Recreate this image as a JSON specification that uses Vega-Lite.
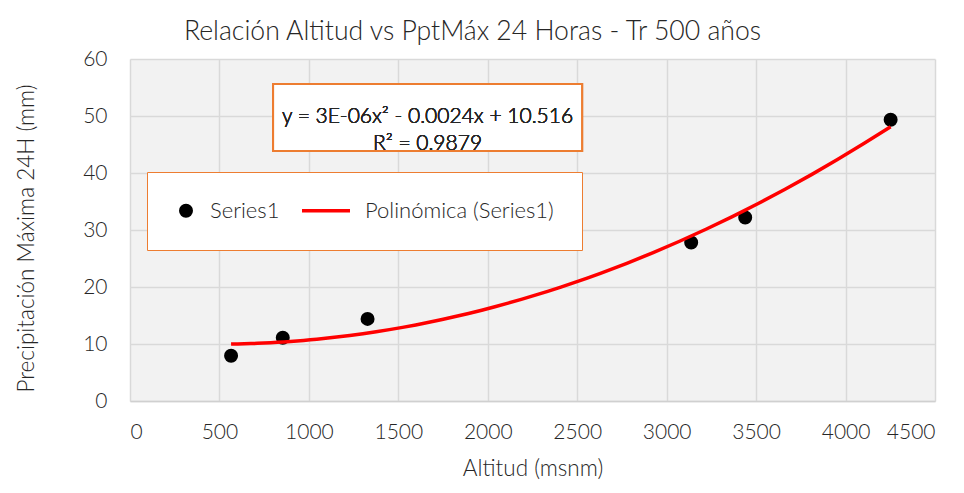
{
  "$schema": "https://vega.github.io/schema/vega-lite/v6.json",
  "width": 805,
  "height": 342,
  "autosize": {"type": "none"},
  "padding": {"left": 130, "top": 59, "right": 29, "bottom": 92},
  "background": "#ffffff",
  "title": {
    "text": "Relación Altitud vs PptMáx 24 Horas - Tr 500 años",
    "font": "Lato",
    "fontSize": 26.6,
    "fontWeight": 300,
    "color": "#262626",
    "anchor": "middle",
    "dx": -60,
    "offset": 2
  },
  "data": {
    "values": [
      {"alt": 565, "ppt": 7.95},
      {"alt": 854, "ppt": 11.1},
      {"alt": 1328, "ppt": 14.4},
      {"alt": 3137, "ppt": 27.8},
      {"alt": 3439, "ppt": 32.2},
      {"alt": 4252, "ppt": 49.35}
    ]
  },
  "layer": [
    {
      "mark": {"type": "rect", "fill": "#ffffff", "stroke": "#ED7D31", "strokeWidth": 2},
      "encoding": {
        "x": {"datum": 800, "type": "quantitative"},
        "x2": {"datum": 2527},
        "y": {"datum": 55.6, "type": "quantitative"},
        "y2": {"datum": 43.86}
      }
    },
    {
      "mark": {
        "type": "text",
        "font": "Lato",
        "fontSize": 21,
        "fontWeight": 300,
        "lineHeight": 27,
        "lineBreak": "\n",
        "color": "#262626",
        "align": "center",
        "baseline": "middle"
      },
      "encoding": {
        "text": {"datum": "y = 3E-06x² - 0.0024x + 10.516\nR² = 0.9879"},
        "x": {"datum": 1663, "type": "quantitative"},
        "y": {"datum": 49.74, "type": "quantitative"}
      }
    },
    {
      "mark": {"type": "point", "filled": true, "opacity": 1, "strokeWidth": 3.5},
      "encoding": {
        "x": {
          "field": "alt",
          "type": "quantitative",
          "scale": {"domain": [0, 4500], "nice": false, "zero": false},
          "axis": {
            "values": [0, 500, 1000, 1500, 2000, 2500, 3000, 3500, 4000, 4500],
            "format": "d",
            "title": "Altitud (msnm)",
            "grid": true,
            "gridColor": "#d9d9d9",
            "gridWidth": 1.5,
            "domain": true,
            "domainColor": "#d0d0d0",
            "domainWidth": 1.5,
            "ticks": false,
            "labelFont": "Lato",
            "labelFontSize": 21,
            "labelFontWeight": 300,
            "labelColor": "#262626",
            "labelPadding": 20,
            "titleFont": "Lato",
            "titleFontSize": 22.5,
            "titleFontWeight": 300,
            "titleColor": "#262626",
            "titlePadding": 15
          }
        },
        "y": {
          "field": "ppt",
          "type": "quantitative",
          "scale": {"domain": [0, 60], "nice": false},
          "axis": {
            "values": [0, 10, 20, 30, 40, 50, 60],
            "title": "Precipitación Máxima 24H (mm)",
            "grid": true,
            "gridColor": "#d9d9d9",
            "gridWidth": 1.5,
            "domain": false,
            "ticks": false,
            "labelFont": "Lato",
            "labelFontSize": 21,
            "labelFontWeight": 300,
            "labelColor": "#262626",
            "labelPadding": 23,
            "titleFont": "Lato",
            "titleFontSize": 22.5,
            "titleFontWeight": 300,
            "titleColor": "#262626",
            "titlePadding": 44,
            "titleY": 179
          }
        },
        "color": {
          "datum": "Series1",
          "scale": {
            "domain": ["Series1", "Polinómica (Series1)"],
            "range": ["#000000", "#ff0000"]
          },
          "legend": {"title": null}
        },
        "stroke": {
          "datum": "Series1",
          "scale": {
            "domain": ["Series1", "Polinómica (Series1)"],
            "range": ["#000000", "#ff0000"]
          },
          "legend": {"title": null}
        },
        "shape": {
          "datum": "Series1",
          "scale": {
            "domain": ["Series1", "Polinómica (Series1)"],
            "range": ["circle", "stroke"]
          },
          "legend": {"title": null}
        },
        "size": {
          "datum": "Series1",
          "scale": {
            "type": "ordinal",
            "domain": ["Series1", "Polinómica (Series1)"],
            "range": [110, 2304]
          },
          "legend": {"title": null}
        }
      }
    },
    {
      "transform": [
        {"regression": "ppt", "on": "alt", "method": "poly", "order": 2}
      ],
      "mark": {"type": "line", "strokeWidth": 3.5},
      "encoding": {
        "x": {"field": "alt", "type": "quantitative"},
        "y": {"field": "ppt", "type": "quantitative"},
        "color": {"datum": "Polinómica (Series1)"}
      }
    }
  ],
  "config": {
    "view": {"fill": "#f2f2f2", "stroke": null},
    "legend": {
      "orient": "none",
      "legendX": 17,
      "legendY": 113,
      "direction": "horizontal",
      "padding": 28,
      "clipHeight": 21,
      "strokeColor": "#ED7D31",
      "fillColor": "#ffffff",
      "symbolStrokeWidth": 3.5,
      "symbolOpacity": 1,
      "labelFont": "Lato",
      "labelFontSize": 22,
      "labelFontWeight": 300,
      "labelColor": "#262626",
      "labelOffset": 13,
      "labelLimit": 400,
      "columnPadding": 20
    }
  }
}
